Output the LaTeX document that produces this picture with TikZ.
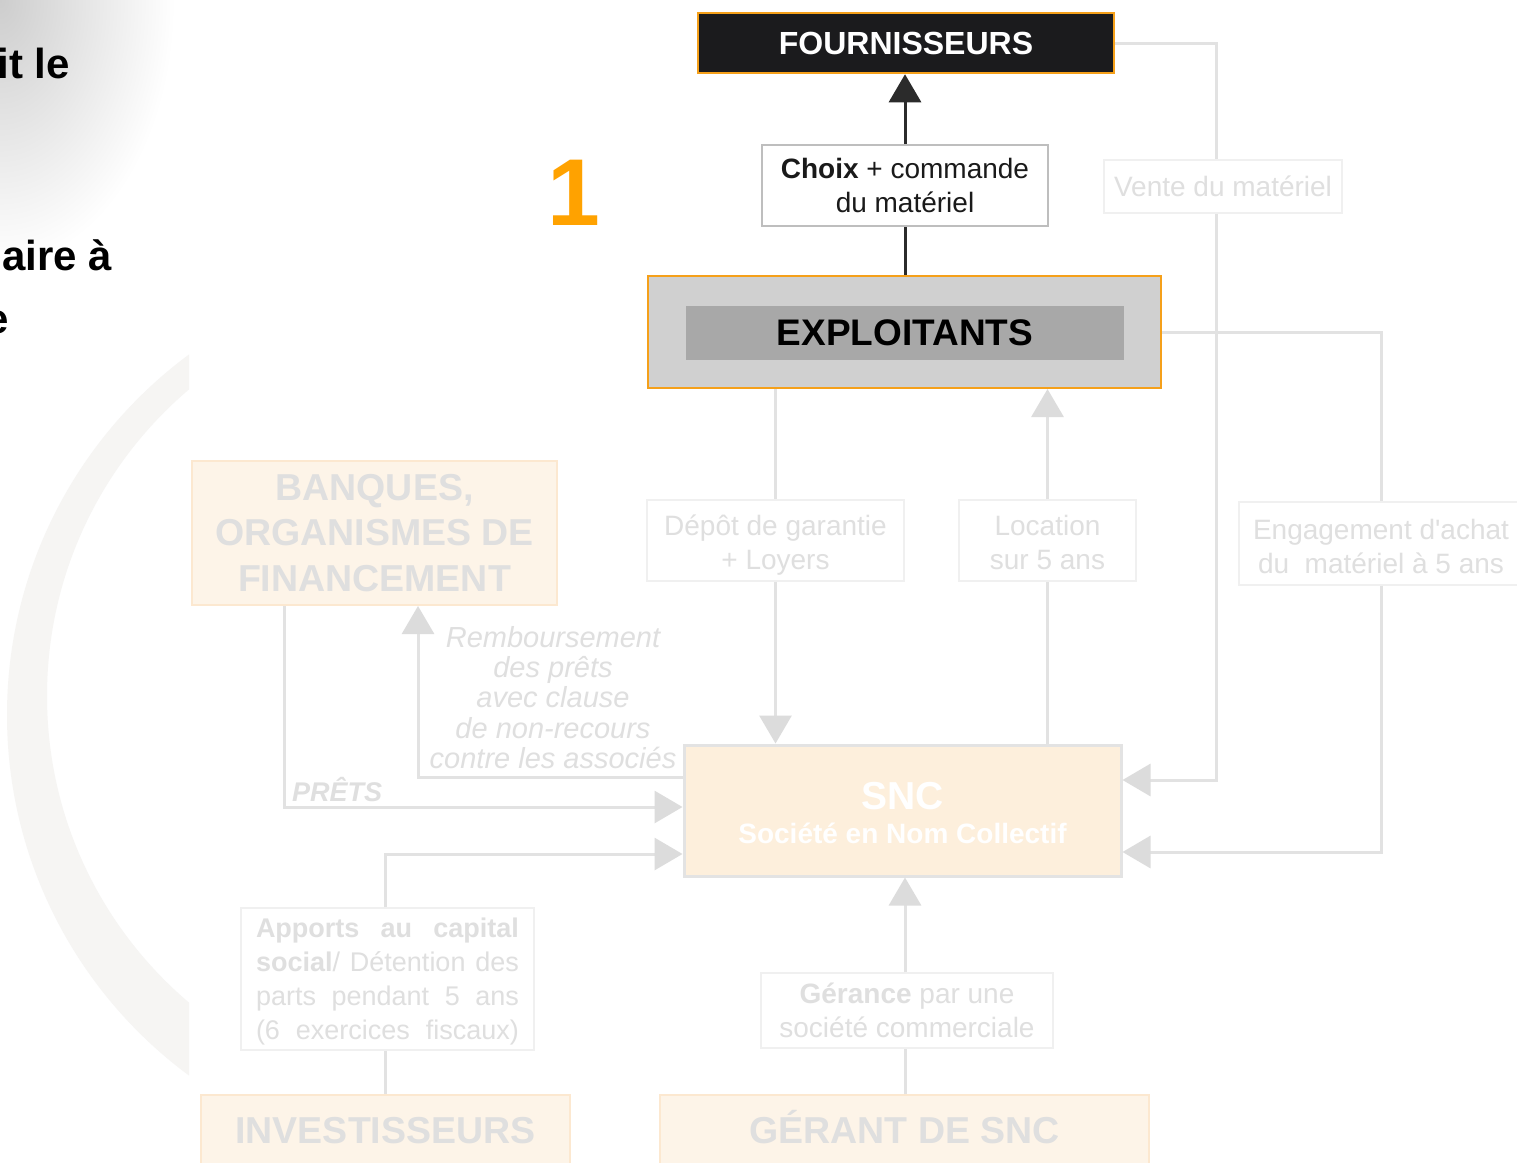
\documentclass[tikz,border=0pt]{standalone}
\usepackage{fontspec}
\setmainfont{Liberation Sans}
\usetikzlibrary{arrows.meta}

\definecolor{orng}{HTML}{F5A01A}
\definecolor{numorange}{HTML}{FFA200}
\definecolor{boxblack}{HTML}{1B1B1D}
\definecolor{darkln}{HTML}{2B2B2B}
\definecolor{txtdark}{HTML}{1A1A1A}
\definecolor{choixln}{HTML}{BEBEBE}
\definecolor{exgray}{HTML}{D0D0D0}
\definecolor{exinner}{HTML}{A8A8A8}
\definecolor{fadeln}{HTML}{E2E2E2}
\definecolor{fadetip}{HTML}{DCDCDC}
\definecolor{fadetxt}{HTML}{DFDFDF}
\definecolor{fadebox}{HTML}{F0F0F0}
\definecolor{peach}{HTML}{FDF4E8}
\definecolor{peachln}{HTML}{FCE8D0}
\definecolor{sncfill}{HTML}{FDEFDC}
\definecolor{sncln}{HTML}{E3E3E3}
\definecolor{arcgray}{HTML}{F6F5F3}
\definecolor{cornergray}{HTML}{CDCDCD}

\begin{document}
\begin{tikzpicture}[x=1pt,y=-1pt,
  box/.style={rectangle, inner sep=0pt, align=center},
  labelbox/.style={box, draw=fadebox, line width=1.5pt, fill=white, text=fadetxt,
    font=\fontsize{28}{34}\selectfont},
  peachbox/.style={box, draw=peachln, line width=2pt, fill=peach, text=fadetxt,
    font=\bfseries\fontsize{37.5}{45.5}\selectfont},
  fadeline/.style={draw=fadeln, line width=3pt},
  fadearrow/.style={fadeline, -{Triangle[length=28pt,width=32pt,color=fadetip]}},
  darkline/.style={draw=darkln, line width=3pt},
  darkarrow/.style={darkline, -{Triangle[length=28pt,width=32pt]}},
  fragment/.style={font=\bfseries\fontsize{42}{46}\selectfont, anchor=base east, inner sep=0pt}
]
\useasboundingbox (0,0) rectangle (1517,1162);
\fill[white] (0,0) rectangle (1517,1162);

% shaded corner and the pale crescent on the left
\begin{scope}
  \clip (0,0) rectangle (1517,1162);
  \shade[inner color=cornergray, outer color=white] (0,0) ellipse (175pt and 265pt);
\end{scope}
\begin{scope}
  \clip (0,0) rectangle (189,1162);
  \fill[arcgray, even odd rule] (455,715) circle (448pt) (449,696) circle (402pt);
\end{scope}

% ends of the slide text on the left
\node[fragment] (fragA) at (70,78) {it le};
\node[fragment] (fragB) at (112,270) {aire à};
\node[fragment] (fragC) at (9,333) {e};

% upper part: suppliers and operators
\node[box, draw=orng, line width=2.5pt, fill=boxblack, text=white,
  font=\bfseries\fontsize{32}{36}\selectfont,
  minimum width=416pt, minimum height=60pt] (four) at (906,43) {FOURNISSEURS};
\node[box, draw=choixln, line width=2pt, fill=white, text=txtdark,
  font=\fontsize{28}{34}\selectfont,
  minimum width=286pt, minimum height=81pt] (choix) at (905,185.5)
  {\textbf{Choix} + commande\\du matériel};
\node[font=\bfseries\fontsize{95}{95}\selectfont, text=numorange, inner sep=0pt,
  anchor=base west] (num) at (547,225) {1};
\node[box, draw=orng, line width=2pt, fill=exgray,
  minimum width=513pt, minimum height=112pt] (expl) at (904.5,332) {};
\node[box, fill=exinner, text=black, font=\bfseries\fontsize{37}{40}\selectfont,
  minimum width=438pt, minimum height=54pt] (explin) at (905,333) {EXPLOITANTS};

% flow labels
\node[labelbox, minimum width=238pt, minimum height=53pt] (vente) at (1223,186.5)
  {Vente du matériel};
\node[labelbox, minimum width=257pt, minimum height=81pt] (depot) at (775.5,540.5)
  {\rule{0pt}{29pt}Dépôt de garantie\\+ Loyers};
\node[labelbox, minimum width=177pt, minimum height=81pt] (loc) at (1047.5,540.5)
  {\rule{0pt}{24pt}Location\\sur 5 ans};
\node[labelbox, minimum width=284pt, minimum height=83pt] (engag) at (1381,543.5)
  {\rule{0pt}{26pt}Engagement d\textquotesingle achat\\du\ \ matériel à 5 ans};

% the SNC
\node[box, draw=sncln, line width=3pt, fill=sncfill, text=white,
  font=\bfseries\fontsize{28}{34}\selectfont,
  minimum width=437pt, minimum height=131pt] (snc) at (902.5,810.5)
  {\rule{0pt}{33pt}{\fontsize{39}{34}\selectfont SNC}\\Société en Nom Collectif};

% banks
\node[peachbox, minimum width=365pt, minimum height=144pt] (banq) at (374.5,533)
  {BANQUES,\\ORGANISMES DE\\FINANCEMENT};
\node[font=\bfseries\itshape\fontsize{27}{30}\selectfont, text=fadetxt,
  anchor=base west, inner sep=0pt] (prets) at (292,801) {PRÊTS};
\node[font=\itshape\fontsize{29}{30.3}\selectfont, text=fadetxt, align=center,
  inner sep=0pt, anchor=north] (remb) at (553,626)
  {Remboursement\\des prêts\\avec clause\\de non-recours\\contre les associés};

% investors and manager
\node[labelbox, font=\fontsize{27}{34}\selectfont,
  minimum width=293pt, minimum height=142pt] (appo) at (387.5,979)
  {\rule{0pt}{24pt}\makebox[263pt][s]{\textbf{Apports au capital}}\\
   \makebox[263pt][s]{\textbf{social}/ Détention des}\\
   \makebox[263pt][s]{parts pendant 5 ans}\\
   \makebox[263pt][s]{(6 exercices fiscaux)}};
\node[peachbox, minimum width=369pt, minimum height=70pt, text height=27pt,
  text depth=0pt] (inv) at (385.5,1130) {INVESTISSEURS};
\node[labelbox, minimum width=292pt, minimum height=75pt] (ger) at (907,1010.5)
  {\textbf{Gérance} par une\\société commerciale};
\node[peachbox, minimum width=489pt, minimum height=70pt, text height=27pt,
  text depth=0pt] (gerant) at (904.5,1130) {GÉRANT DE SNC};

% helper coordinates for the routed connectors
\coordinate (vx) at (1216,0);
\coordinate (bx) at (284,0);
\coordinate (rx) at (418,0);
\coordinate (ax) at (385,0);
\coordinate (gx) at (905,0);
\coordinate (yVente) at (0,780);
\coordinate (yEngag) at (0,852);
\coordinate (yPrets) at (0,807);
\coordinate (yRemb) at (0,777);
\coordinate (yApp) at (0,854);

% connectors
\draw[darkarrow] (choix.north) -- (choix.north |- four.south);
\draw[darkline] (choix.south) -- (choix.south |- expl.north);

\draw[fadeline] (depot.north |- expl.south) -- (depot.north);
\draw[fadearrow] (depot.south) -- (depot.south |- snc.north);
\draw[fadeline] (loc.south |- snc.north) -- (loc.south);
\draw[fadearrow] (loc.north) -- (loc.north |- expl.south);

\draw[fadeline] (four.east) -| (vx |- vente.north);
\draw[fadearrow] (vx |- vente.south) |- (snc.east |- yVente);
\draw[fadeline] (expl.east) -| (engag.north);
\draw[fadearrow] (engag.south) |- (snc.east |- yEngag);

\draw[fadearrow] (banq.south -| bx) |- (snc.west |- yPrets);
\draw[fadearrow] (snc.west |- yRemb) -| (banq.south -| rx);
\draw[fadearrow] (appo.north -| ax) |- (snc.west |- yApp);
\draw[fadeline] (appo.south -| ax) -- (inv.north -| ax);
\draw[fadeline] (gerant.north -| gx) -- (ger.south -| gx);
\draw[fadearrow] (ger.north -| gx) -- (snc.south -| gx);
\end{tikzpicture}
\end{document}
